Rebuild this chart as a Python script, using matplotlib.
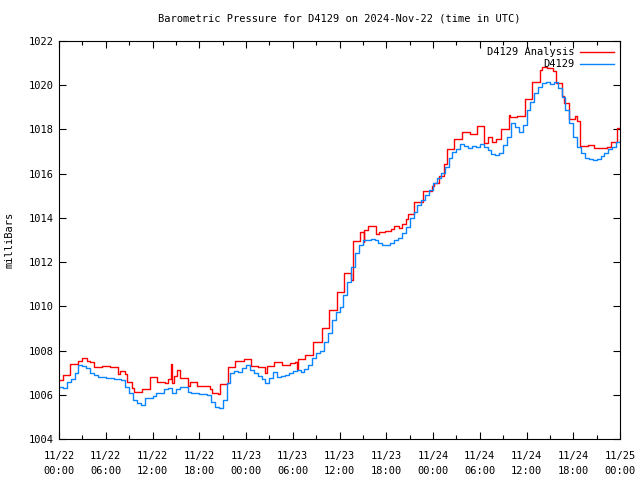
"""
Barometric pressure at station D4129, analysis against observation,
drawn to look like the gnuplot chart it came from.
"""

import datetime as dt

import matplotlib
import matplotlib.pyplot as plt
import numpy as np
from matplotlib.ticker import MultipleLocator

matplotlib.use("Agg")

# Start of the time axis (all times in hours after this)
start = dt.datetime(2024, 11, 22, 0, 0)

# Analysis (red): hours at which the value changes, and the value from then on
red_hours = [0, 0.56, 1.41, 2.48, 2.91, 3.55, 3.98, 4.54, 5.48, 6.55, 7.62,
             7.83, 8.47, 8.69, 9.41, 9.63, 10.61, 11.68, 12.54, 13.6, 13.95,
             14.38, 14.46, 14.8, 15.1, 15.53, 15.96, 16.6, 16.82, 17.67,
             19.38, 19.6, 20.45, 20.67, 21.5, 21.65, 22.6, 23.8, 24.65, 25.5,
             26.5, 26.66, 27.6, 28.67, 29.65, 30.3, 30.5, 30.7, 31.58, 32.65,
             33.7, 34.66, 35.64, 36.63, 37.48, 37.78, 38.64, 39.1, 39.2, 39.7,
             40.65, 41.08, 41.85, 42.6, 43.04, 43.7, 44.0, 44.5, 44.76, 45.6,
             46.77, 47.84, 48.1, 48.82, 49.46, 49.85, 50.7, 51.7, 52.8, 53.7,
             54.6, 55.0, 55.6, 56.05, 56.7, 57.7, 57.9, 58.75, 59.8, 60.7,
             61.75, 62.0, 62.6, 63.45, 63.8, 64.6, 64.8, 65.4, 66.2, 66.5,
             66.9, 67.9, 68.7, 70.3, 70.8, 71.6, 72.0]
red_values = [1006.67, 1006.89, 1007.38, 1007.53, 1007.65, 1007.53, 1007.50,
              1007.24, 1007.30, 1007.27, 1006.92, 1007.09, 1006.95, 1006.59,
              1006.30, 1006.14, 1006.25, 1006.79, 1006.59, 1006.55, 1006.70,
              1007.40, 1006.55, 1006.85, 1007.12, 1006.78, 1006.76, 1006.40,
              1006.59, 1006.40, 1006.25, 1006.10, 1006.05, 1006.49, 1006.55,
              1007.24, 1007.54, 1007.60, 1007.30, 1007.24, 1007.00, 1007.30,
              1007.47, 1007.35, 1007.42, 1007.50, 1007.15, 1007.60, 1007.80,
              1008.40, 1009.00, 1009.83, 1010.63, 1011.49, 1011.20, 1012.95,
              1013.35, 1012.90, 1013.45, 1013.63, 1013.27, 1013.35, 1013.40,
              1013.50, 1013.65, 1013.55, 1013.72, 1013.95, 1014.18, 1014.73,
              1015.23, 1015.45, 1015.60, 1015.89, 1016.42, 1017.10, 1017.55,
              1017.87, 1017.78, 1018.16, 1017.40, 1017.66, 1017.45, 1017.55,
              1018.02, 1018.65, 1018.55, 1018.60, 1019.38, 1020.13, 1020.69,
              1020.84, 1020.80, 1020.65, 1020.09, 1019.50, 1019.18, 1018.45,
              1018.60, 1018.40, 1017.26, 1017.30, 1017.15, 1017.20, 1017.42,
              1018.08, 1018.08]

# Observation (blue): one reading every half hour from 00:00 on 11/22
obs_values = [1006.37, 1006.30, 1006.59, 1006.70, 1006.97, 1007.35, 1007.30,
              1007.20, 1006.97, 1006.89, 1006.80, 1006.80, 1006.78, 1006.74,
              1006.72, 1006.70, 1006.65, 1006.37, 1006.07, 1005.77, 1005.62,
              1005.55, 1005.84, 1005.84, 1005.95, 1006.07, 1006.10, 1006.25,
              1006.29, 1006.07, 1006.25, 1006.37, 1006.33, 1006.14, 1006.10,
              1006.07, 1006.04, 1006.04, 1006.00, 1005.69, 1005.46, 1005.38,
              1005.77, 1006.52, 1006.97, 1007.09, 1007.05, 1007.20, 1007.35,
              1007.12, 1006.97, 1006.86, 1006.70, 1006.55, 1006.74, 1007.05,
              1006.82, 1006.86, 1006.89, 1006.97, 1007.08, 1007.12, 1007.05,
              1007.15, 1007.35, 1007.65, 1007.87, 1008.00, 1008.40, 1008.78,
              1009.38, 1009.76, 1009.98, 1010.51, 1011.11, 1011.79, 1012.40,
              1012.77, 1013.00, 1013.00, 1013.03, 1013.00, 1012.85, 1012.77,
              1012.77, 1012.85, 1013.00, 1013.10, 1013.30, 1013.57, 1013.98,
              1014.28, 1014.58, 1014.81, 1015.03, 1015.26, 1015.56, 1015.79,
              1016.02, 1016.30, 1016.69, 1016.99, 1017.10, 1017.33, 1017.27,
              1017.18, 1017.27, 1017.22, 1017.36, 1017.22, 1017.07, 1016.87,
              1016.85, 1016.93, 1017.30, 1017.67, 1018.28, 1018.13, 1017.90,
              1018.20, 1018.88, 1019.26, 1019.63, 1019.90, 1020.08, 1020.16,
              1020.05, 1020.13, 1019.86, 1019.48, 1018.88, 1018.28, 1017.67,
              1017.22, 1016.92, 1016.69, 1016.66, 1016.60, 1016.66, 1016.80,
              1016.92, 1017.10, 1017.22, 1017.42, 1017.48]
obs_hours = [0.5 * i for i in range(len(obs_values))]

# Bottom axis: a labelled tick every 6 hours over three days
tick_hours = list(range(0, 73, 6))
tick_labels = [(start + dt.timedelta(hours=h)).strftime("%m/%d\n%H:%M")
               for h in tick_hours]

plt.rcParams["font.family"] = ["DejaVu Sans Mono"]
plt.rcParams["font.size"] = 7.5

fig = plt.figure(figsize=(6.4, 4.8), dpi=100)
ax = fig.add_axes([59 / 640, 1 - 439 / 480, 561 / 640, 398 / 480])

# Analysis first, observation on top of it, as gnuplot draws them
ax.plot(red_hours, red_values, drawstyle="steps-post", color="#ff0000",
        lw=1.0, label="D4129 Analysis")
ax.plot(obs_hours, obs_values, drawstyle="steps-post", color="#0a84ff",
        lw=1.0, label="D4129")

ax.set_xlim(0, 72)
ax.set_ylim(1004, 1022)
ax.set_xticks(tick_hours)
ax.set_xticklabels(tick_labels, linespacing=1.6)
ax.xaxis.set_minor_locator(MultipleLocator(3))
ax.yaxis.set_major_locator(MultipleLocator(2))

ax.tick_params(which="both", direction="in", top=True, right=True,
               width=0.8, color="black")
ax.tick_params(which="major", length=5, pad=4)
ax.tick_params(axis="x", which="major", pad=9)
ax.tick_params(which="minor", length=3)
for spine in ax.spines.values():
    spine.set_linewidth(0.8)

ax.set_title("Barometric Pressure for D4129 on 2024-Nov-22 (time in UTC)",
             fontsize=7.5, pad=14)
ax.set_ylabel("milliBars", labelpad=10)

ax.legend(loc="upper right", frameon=False, markerfirst=False,
          handlelength=3.2, handletextpad=0.6, labelspacing=0.2,
          borderaxespad=0.2, fontsize=7.5)

fig.savefig("out.png", dpi=100)
